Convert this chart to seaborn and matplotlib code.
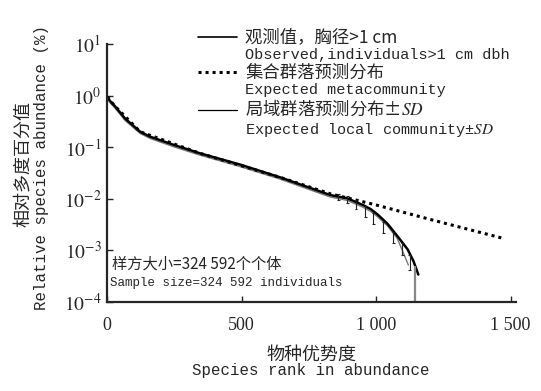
import numpy as np
import pandas as pd
import seaborn as sns
import matplotlib.pyplot as plt
from matplotlib.lines import Line2D
from matplotlib.ticker import FixedLocator, FuncFormatter, NullLocator

# observed rank-abundance curve (% relative abundance)
obs_rank = [1, 10, 30, 67, 123, 160, 250, 346, 495, 644, 830, 893, 953, 980, 1005, 1042, 1079, 1117,
            1139, 1157]
obs_val = [0.95, 0.8, 0.62, 0.36, 0.2, 0.16, 0.11, 0.076, 0.046, 0.026, 0.0118, 0.0102, 0.0075, 0.0063,
           0.005, 0.0033, 0.0019, 0.00105, 0.00062, 0.00034]

# expected metacommunity
meta_rank = [1, 30, 123, 346, 644, 830, 1000, 1200, 1474]
meta_val = [0.95, 0.62, 0.2, 0.076, 0.026, 0.0125, 0.0076, 0.004, 0.0017]

# expected local community (mean) and SD bars
loc_rank = [1, 10, 30, 67, 123, 160, 250, 346, 495, 644, 830, 893, 953, 980, 1005, 1042, 1079, 1120]
loc_val = [0.9, 0.74, 0.57, 0.33, 0.185, 0.148, 0.101, 0.07, 0.042, 0.024, 0.0108, 0.0093, 0.0068,
           0.0057, 0.0045, 0.003, 0.0017, 0.00052]
sd_rank = [860, 893, 925, 960, 990, 1027, 1064, 1098, 1125]
sd_lo = [0.0095, 0.0082, 0.0064, 0.0044, 0.0032, 0.0022, 0.0014, 0.0008, 0.00042]
sd_hi = [0.0125, 0.0115, 0.0095, 0.0072, 0.0052, 0.0036, 0.0023, 0.0014, 0.0008]
end_rank = 1146
end_lo, end_hi = 0.00005, 0.0005

sns.set_style('ticks')
plt.rcParams['font.family'] = ['Liberation Serif', 'Noto Sans CJK SC']
plt.rcParams['mathtext.fontset'] = 'stix'
mono = ['Liberation Mono', 'Noto Sans CJK SC']
cjk = ['Noto Sans CJK SC', 'Liberation Mono']

fig = plt.figure(figsize=(5.41, 3.91), dpi=100)
ax = fig.add_axes([107 / 541, 1 - 302 / 391, 409 / 541, 258 / 391])

df_obs = pd.DataFrame({'rank': obs_rank, 'val': obs_val})
df_meta = pd.DataFrame({'rank': meta_rank, 'val': meta_val})
df_loc = pd.DataFrame({'rank': loc_rank, 'val': loc_val})

sns.lineplot(data=df_loc, x='rank', y='val', ax=ax, color='#777777', lw=1.0, estimator=None, sort=False)
sns.lineplot(data=df_meta, x='rank', y='val', ax=ax, color='black', lw=2.2,
             linestyle=(0, (1, 1.3)), estimator=None, sort=False)
sns.lineplot(data=df_obs, x='rank', y='val', ax=ax, color='black', lw=1.8, estimator=None, sort=False)

# SD bars
cap = 5
ax.vlines(sd_rank, sd_lo, sd_hi, color='#222222', lw=0.8)
ax.hlines(sd_lo, np.array(sd_rank) - cap, np.array(sd_rank) + cap, color='#222222', lw=0.8)
ax.hlines(sd_hi, np.array(sd_rank) - cap, np.array(sd_rank) + cap, color='#222222', lw=0.8)
ax.vlines([end_rank], [end_lo], [end_hi], color='#888888', lw=1.6)

ax.set_yscale('log')
ax.set_ylim(1e-4, 10)
ax.set_xlim(0, 1520)
ax.xaxis.set_major_locator(FixedLocator([0, 500, 1000, 1500]))
ax.xaxis.set_major_formatter(FuncFormatter(lambda v, p: f'{int(v):,}'.replace(',', ' ')))
ax.yaxis.set_major_locator(FixedLocator([1e-4, 1e-3, 1e-2, 1e-1, 1, 10]))
ax.yaxis.set_minor_locator(NullLocator())
ax.yaxis.set_major_formatter(FuncFormatter(lambda v, p: r'$10^{%d}$' % round(np.log10(v))))
ax.tick_params(direction='in', length=4, width=1, labelsize=13)
ax.tick_params(axis='x', pad=11)
ax.tick_params(axis='y', pad=4, labelsize=14)
for s in ['top', 'right']:
    ax.spines[s].set_visible(False)
for s in ['left', 'bottom']:
    ax.spines[s].set_linewidth(1.6)
ax.set_xlabel('')
ax.set_ylabel('')

# sample size note
fig.text(112 / 541, 1 - 264 / 391, '样方大小=324 592个个体', family=cjk, fontsize=11, va='center')
fig.text(110 / 541, 1 - 283 / 391, 'Sample size=324 592 individuals', family=mono, fontsize=9, va='center')

# axis labels
fig.text(311 / 541, 1 - 355 / 391, '物种优势度', family=cjk, fontsize=13, ha='center', va='center')
fig.text(311 / 541, 1 - 371 / 391, 'Species rank in abundance', family=mono, fontsize=11.3, ha='center', va='center')
fig.text(23 / 541, 1 - 164 / 391, '相对多度百分值', family=cjk, fontsize=13, rotation=90, ha='center', va='center')
fig.text(42 / 541, 1 - 167 / 391, 'Relative species abundance (%)', family=mono, fontsize=11.3,
         rotation=90, ha='center', va='center')

# legend
blank = Line2D([], [], color='none')
handles = [Line2D([], [], color='black', lw=1.2), blank,
           Line2D([], [], color='black', lw=2.2, linestyle=(0, (1, 1.3))), blank,
           Line2D([], [], color='black', lw=0.9), blank]
labels = ['观测值，胸径>1 cm', 'Observed,individuals>1 cm dbh',
          '集合群落预测分布', 'Expected metacommunity',
          '局域群落预测分布±$SD$', 'Expected local community±$SD$']
leg = fig.legend(handles, labels, loc='upper left', bbox_to_anchor=(190 / 541, 1 - 21 / 391),
                 frameon=False, borderpad=0, handlelength=2.6, handletextpad=0.5, labelspacing=0.1,
                 fontsize=11)
for i, t in enumerate(leg.get_texts()):
    if i % 2 == 0:
        t.set_family(cjk)
        t.set_fontsize(12.5)
    else:
        t.set_family(mono)
        t.set_fontsize(11)

fig.savefig('out.png', dpi=100)
